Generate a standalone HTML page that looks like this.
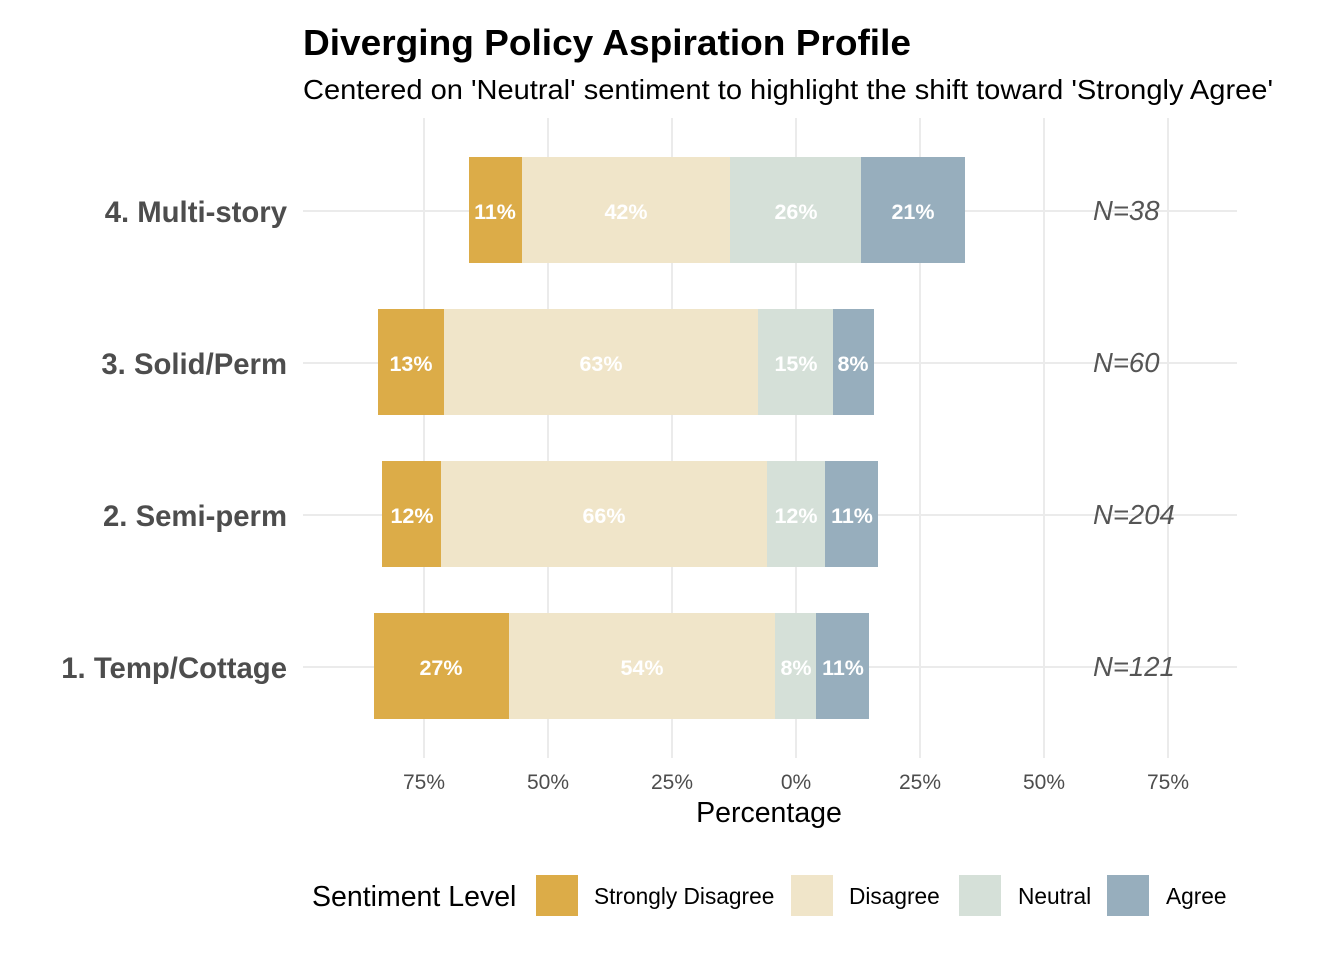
<!DOCTYPE html>
<html><head><meta charset="utf-8"><style>body{margin:0;background:#fff}svg{display:block}text{font-family:"Liberation Sans",Arial,sans-serif}</style></head><body>
<svg width="1344" height="960" xmlns="http://www.w3.org/2000/svg">
<rect width="1344" height="960" fill="#fff"/>
<text x="303" y="55" font-size="36.5" font-weight="bold" fill="#000" textLength="608" lengthAdjust="spacingAndGlyphs">Diverging Policy Aspiration Profile</text>
<text x="303" y="99" font-size="28" fill="#000" textLength="970" lengthAdjust="spacingAndGlyphs">Centered on 'Neutral' sentiment to highlight the shift toward 'Strongly Agree'</text>
<g stroke="#ebebeb" stroke-width="2">
<line x1="424" y1="118" x2="424" y2="758"/><line x1="548" y1="118" x2="548" y2="758"/><line x1="672" y1="118" x2="672" y2="758"/><line x1="796" y1="118" x2="796" y2="758"/><line x1="920" y1="118" x2="920" y2="758"/><line x1="1044" y1="118" x2="1044" y2="758"/><line x1="1168" y1="118" x2="1168" y2="758"/>
<line x1="303" y1="211" x2="1237" y2="211"/><line x1="303" y1="363" x2="1237" y2="363"/><line x1="303" y1="515" x2="1237" y2="515"/><line x1="303" y1="667" x2="1237" y2="667"/>
</g>
<g>
<rect x="469" y="157" width="53" height="106" fill="#DCAC48"/><rect x="522" y="157" width="208" height="106" fill="#F0E5C9"/><rect x="730" y="157" width="131" height="106" fill="#D5E0D8"/><rect x="861" y="157" width="104" height="106" fill="#97AEBD"/>
<rect x="378" y="309" width="66" height="106" fill="#DCAC48"/><rect x="444" y="309" width="314" height="106" fill="#F0E5C9"/><rect x="758" y="309" width="75" height="106" fill="#D5E0D8"/><rect x="833" y="309" width="41" height="106" fill="#97AEBD"/>
<rect x="382" y="461" width="59" height="106" fill="#DCAC48"/><rect x="441" y="461" width="326" height="106" fill="#F0E5C9"/><rect x="767" y="461" width="58" height="106" fill="#D5E0D8"/><rect x="825" y="461" width="53" height="106" fill="#97AEBD"/>
<rect x="374" y="613" width="135" height="106" fill="#DCAC48"/><rect x="509" y="613" width="266" height="106" fill="#F0E5C9"/><rect x="775" y="613" width="41" height="106" fill="#D5E0D8"/><rect x="816" y="613" width="53" height="106" fill="#97AEBD"/>
</g>
<g font-size="21.5" font-weight="bold" fill="#fff" text-anchor="middle">
<text x="495" y="219">11%</text><text x="626" y="219">42%</text><text x="796" y="219">26%</text><text x="913" y="219">21%</text>
<text x="411" y="371">13%</text><text x="601" y="371">63%</text><text x="796" y="371">15%</text><text x="853" y="371">8%</text>
<text x="412" y="523">12%</text><text x="604" y="523">66%</text><text x="796" y="523">12%</text><text x="852" y="523">11%</text>
<text x="441" y="675">27%</text><text x="642" y="675">54%</text><text x="796" y="675">8%</text><text x="843" y="675">11%</text>
</g>
<g font-size="27.5" font-style="italic" fill="#555">
<text x="1093" y="220">N=38</text><text x="1093" y="372">N=60</text><text x="1093" y="524">N=204</text><text x="1093" y="676">N=121</text>
</g>
<g font-size="29.3" font-weight="bold" fill="#4d4d4d" text-anchor="end">
<text x="287" y="222">4. Multi-story</text><text x="287" y="374">3. Solid/Perm</text><text x="287" y="526">2. Semi-perm</text><text x="287" y="678">1. Temp/Cottage</text>
</g>
<g font-size="21" fill="#4d4d4d" text-anchor="middle">
<text x="424" y="789">75%</text><text x="548" y="789">50%</text><text x="672" y="789">25%</text><text x="796" y="789">0%</text><text x="920" y="789">25%</text><text x="1044" y="789">50%</text><text x="1168" y="789">75%</text>
</g>
<text x="769" y="822" font-size="28.5" text-anchor="middle" fill="#000">Percentage</text>
<text x="312" y="906" font-size="28.5" fill="#000">Sentiment Level</text>
<rect x="536" y="875" width="42" height="41" fill="#DCAC48"/><text x="594" y="904" font-size="22.7" fill="#000">Strongly Disagree</text>
<rect x="791" y="875" width="42" height="41" fill="#F0E5C9"/><text x="849" y="904" font-size="22.7" fill="#000">Disagree</text>
<rect x="959" y="875" width="42" height="41" fill="#D5E0D8"/><text x="1018" y="904" font-size="22.7" fill="#000">Neutral</text>
<rect x="1107" y="875" width="42" height="41" fill="#97AEBD"/><text x="1166" y="904" font-size="22.7" fill="#000">Agree</text>
</svg>
</body></html>
